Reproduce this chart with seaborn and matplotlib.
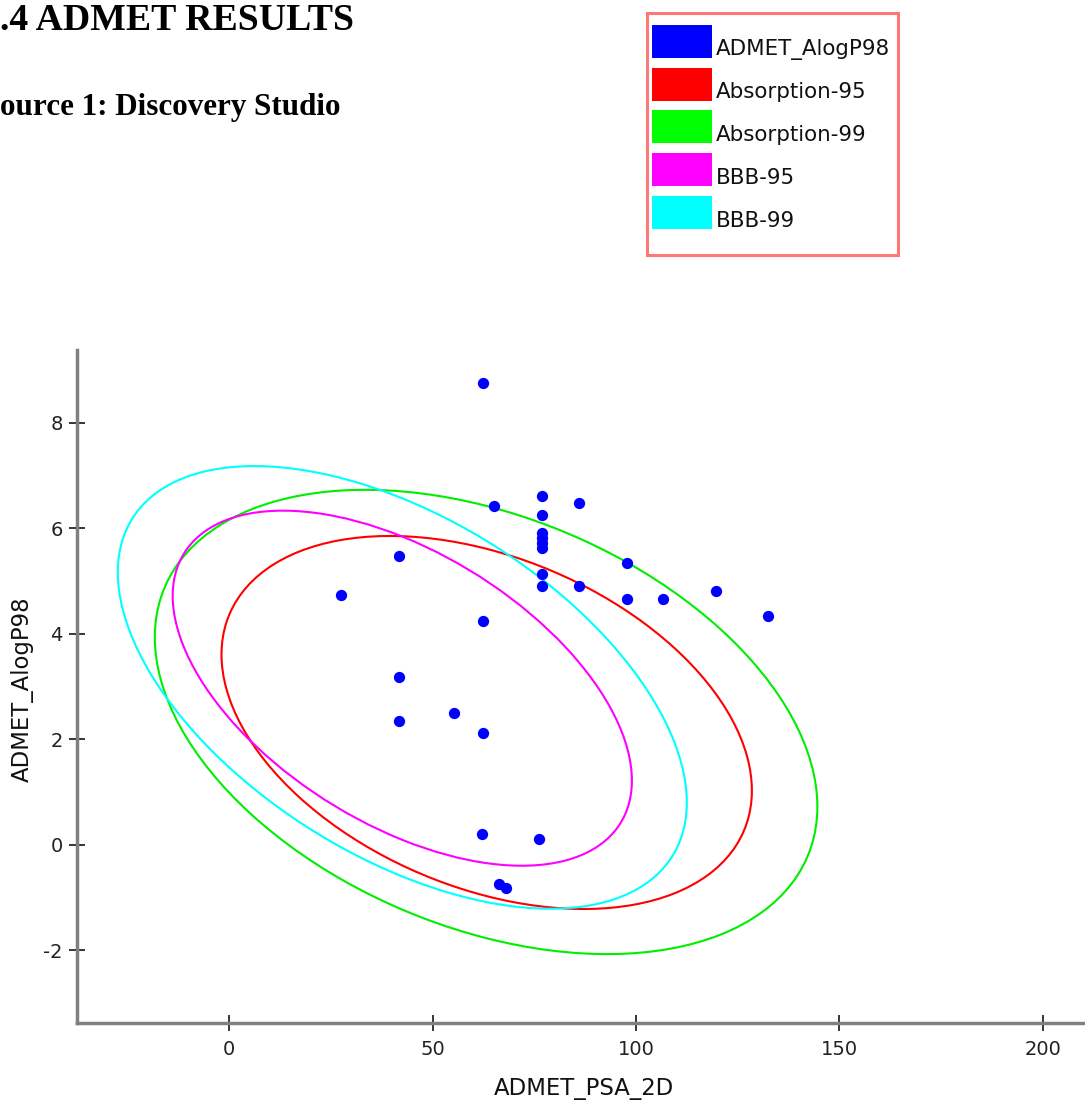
import numpy as np
import pandas as pd
import matplotlib
matplotlib.use("Agg")
import matplotlib.pyplot as plt
import seaborn as sns
from matplotlib.patches import Ellipse, Patch, Rectangle
from matplotlib.legend_handler import HandlerPatch
from matplotlib import font_manager

# ---------------- data ----------------
psa_2d = [62.4, 65.1, 76.95, 76.95, 85.9, 76.95, 76.95, 76.95, 76.95, 76.95,
          76.95, 85.9, 97.7, 97.7, 106.7, 119.8, 132.4, 62.4, 41.7, 27.6,
          41.7, 41.7, 55.2, 62.4, 62.2, 76.2, 66.4, 68.0]
alogp98 = [8.75, 6.43, 6.62, 6.25, 6.48, 5.92, 5.82, 5.72, 5.63, 5.13,
           4.91, 4.90, 5.34, 4.67, 4.66, 4.82, 4.33, 4.25, 5.47, 4.73,
           3.19, 2.35, 2.50, 2.12, 0.20, 0.11, -0.74, -0.82]

ellipse_names = ["Absorption-95", "Absorption-99", "BBB-95", "BBB-99"]
ellipse_cx = [63.3, 63.15, 42.55, 42.55]
ellipse_cy = [2.32, 2.33, 2.97, 2.985]
ellipse_half_x = [65.2, 81.45, 56.45, 69.95]
ellipse_half_y = [3.535, 4.40, 3.365, 4.195]
ellipse_corr = [-0.365, -0.365, -0.52, -0.52]
ellipse_colors = ["#ff0000", "#00ee00", "#ff00ff", "#00ffff"]

legend_labels = ["ADMET_AlogP98", "Absorption-95", "Absorption-99", "BBB-95", "BBB-99"]
legend_colors = ["#0000ff", "#ff0000", "#00ff00", "#ff00ff", "#00ffff"]

x_ticks = [0, 50, 100, 150, 200]
y_ticks = [-2, 0, 2, 4, 6, 8]

# ---------------- style ----------------
sns.set_theme(style="white")
names = {f.name for f in font_manager.fontManager.ttflist}
if "Liberation Sans Narrow" in names:
    sans = ["Liberation Sans Narrow", "DejaVu Sans"]
    fs_tick, fs_label, fs_leg = 16.5, 19.5, 18.3
else:
    sans = ["DejaVu Sans"]
    fs_tick, fs_label, fs_leg = 14.0, 16.4, 15.4
plt.rcParams["font.family"] = sans
plt.rcParams["axes.unicode_minus"] = False

W, H = 1085, 1102
fig = plt.figure(figsize=(W / 100, H / 100), dpi=100)
fig.patch.set_facecolor("white")

ax_left, ax_right, ax_top, ax_bottom = 76.7, 1085, 350, 1022.7
ax = fig.add_axes([ax_left / W, 1 - ax_bottom / H, (ax_right - ax_left) / W,
                   (ax_bottom - ax_top) / H])
ax.set_facecolor("white")

df = pd.DataFrame({"ADMET_PSA_2D": psa_2d, "ADMET_AlogP98": alogp98})

# ellipses (confidence regions)
for cx, cy, hx, hy, r, col in zip(ellipse_cx, ellipse_cy, ellipse_half_x,
                                  ellipse_half_y, ellipse_corr, ellipse_colors):
    cov = np.array([[hx ** 2, r * hx * hy], [r * hx * hy, hy ** 2]])
    vals, vecs = np.linalg.eigh(cov)
    width = 2 * np.sqrt(vals[1])
    height = 2 * np.sqrt(vals[0])
    angle = np.degrees(np.arctan2(vecs[1, 1], vecs[0, 1]))
    ax.add_patch(Ellipse((cx, cy), width, height, angle=angle, fill=False,
                         edgecolor=col, linewidth=1.5, zorder=2))

sns.scatterplot(data=df, x="ADMET_PSA_2D", y="ADMET_AlogP98", ax=ax,
                color="#0000ff", s=66, linewidth=0, zorder=3, legend=False)

ax.set_xlim(-37.5, 210.4)
ax.set_ylim(-3.37, 9.38)
ax.set_xticks(x_ticks)
ax.set_yticks(y_ticks)
ax.set_xticklabels([str(v) for v in x_ticks])
ax.set_yticklabels([str(v) for v in y_ticks])

for s in ["top", "right"]:
    ax.spines[s].set_visible(False)
for s in ["left", "bottom"]:
    ax.spines[s].set_color("#808080")
    ax.spines[s].set_linewidth(2.5)

ax.tick_params(bottom=True, left=True, top=False, right=False,
               direction="inout", length=11.5, width=1.1, color="black",
               pad=4.3, labelsize=fs_tick, labelcolor="#222222")
ax.tick_params(axis="x", pad=6.5)
ax.grid(False)

ax.set_xlabel("ADMET_PSA_2D", fontsize=fs_label, color="#111111", va="center")
ax.set_ylabel("ADMET_AlogP98", fontsize=fs_label, color="#111111", va="center")
ax.xaxis.set_label_coords(0.503, -0.0985)
ax.yaxis.set_label_coords(-0.0538, 0.4953)

# heading texts
serif = ["Liberation Serif", "DejaVu Serif"]
fig.text(0 / W, 1 - 30 / H, ".4 ADMET RESULTS", family=serif, weight="bold",
         fontsize=27.2, ha="left", va="baseline", color="black")
fig.text(0 / W, 1 - 115 / H, "ource 1: Discovery Studio", family=serif,
         weight="bold", fontsize=22.4, ha="left", va="baseline", color="black")

# legend frame + legend
fig.patches.append(Rectangle((647 / W, 1 - 255 / H), (898 - 647) / W,
                             (255 - 12.7) / H, transform=fig.transFigure,
                             fill=False, edgecolor="#ff7878", linewidth=2.2))

PATCH_H_PT = 33 * 0.72       # colour swatch height
PATCH_BELOW_PT = 2.5 * 0.72  # swatch bottom below text baseline


def swatch(legend, orig_handle, xdescent, ydescent, width, height, fontsize):
    return Rectangle((-xdescent, -PATCH_BELOW_PT), width, PATCH_H_PT)


fs_px = fs_leg / 0.72
hh = ((30.5 / fs_px) - 0.245) / 0.65
handles = [Patch(facecolor=c, edgecolor="none") for c in legend_colors]
fig.legend(handles, legend_labels, loc="upper left",
           bbox_to_anchor=(651.7 / W, 1 - 33 / H), frameon=False,
           borderpad=0, borderaxespad=0, handlelength=60 / fs_px,
           handleheight=hh, handletextpad=4 / fs_px,
           labelspacing=12.4 / fs_px, fontsize=fs_leg,
           labelcolor="#111111",
           handler_map={Patch: HandlerPatch(patch_func=swatch)})

fig.savefig("out.png", dpi=100)
